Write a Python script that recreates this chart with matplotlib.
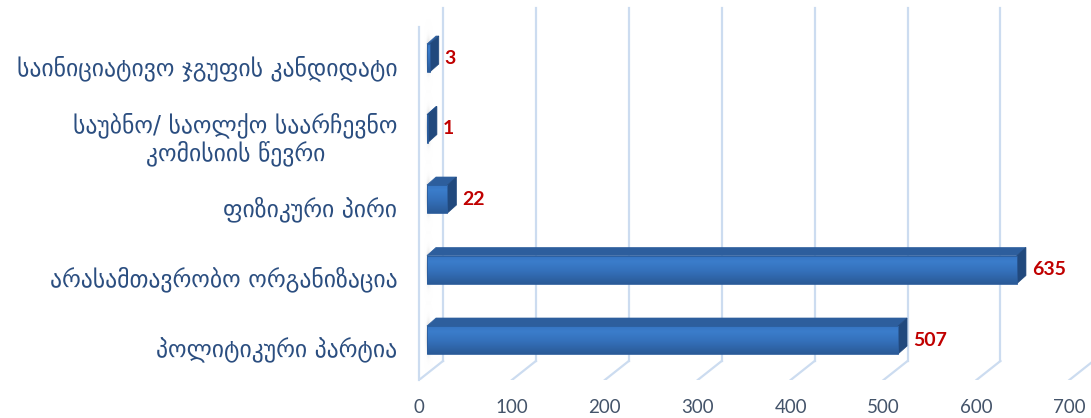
import numpy as np
import matplotlib
matplotlib.use("Agg")
import matplotlib.pyplot as plt
from matplotlib.patches import Rectangle, Polygon
from matplotlib.colors import LinearSegmentedColormap
from matplotlib.transforms import ScaledTranslation, blended_transform_factory

# data (bottom -> top)
categories = ["პოლიტიკური პარტია",
              "არასამთავრობო ორგანიზაცია",
              "ფიზიკური პირი",
              "საუბნო/ საოლქო საარჩევნო\nკომისიის წევრი",
              "საინიციატივო ჯგუფის კანდიდატი"]
values = [507, 635, 22, 1, 3]
xticks = [0, 100, 200, 300, 400, 500, 600, 700]

W, H, dpi = 1091, 418, 100
fig = plt.figure(figsize=(W / dpi, H / dpi), dpi=dpi)
# axes box in pixels (image coords): x 419..1091, y 8..380
ax = fig.add_axes([419 / W, (H - 380) / H, 672 / W, 372 / H])
xlim = (-8.6, 714.7)
ylim = (-0.468, 4.809)
ax.set_xlim(*xlim)
ax.set_ylim(*ylim)

px_x = 672 / (xlim[1] - xlim[0])      # pixels per value unit
px_y = 372 / (ylim[1] - ylim[0])      # pixels per category
dx, dy = 9 / px_x, 8 / px_y            # depth of the 3d bars
shift = 7 / px_y                       # front face sits a bit above category
bar_h = 28 / px_y

grid_c = "#CCDCF0"
tr = ax.get_xaxis_transform()
floor_y = (380 - 361) / 372
back = ax.transData + ScaledTranslation(16 / dpi, 0, fig.dpi_scale_trans)
bt = blended_transform_factory(back, ax.transAxes)
for t in xticks:
    # back wall gridline
    ax.plot([t, t], [floor_y, 1], color=grid_c, lw=1.6, transform=bt,
            clip_on=False, zorder=1)
    # slanted floor line from back to front
    x0 = t + 16 / px_x
    x1 = t - 8 / px_x
    ax.plot([x0, x1], [floor_y, 0], color=grid_c, lw=1.6,
            transform=tr, clip_on=True, zorder=1)
# left wall edge
ax.plot([xlim[0], xlim[0]], [0, (380 - 27) / 372], color=grid_c, lw=1.6,
        transform=tr, clip_on=False, zorder=1)

cmap = LinearSegmentedColormap.from_list(
    "barfront", [(0, "#2A5A97"), (0.45, "#3470BA"), (0.8, "#3B7DCB"), (1, "#3775C3")])
grad = np.linspace(0, 1, 64).reshape(-1, 1)
shade = LinearSegmentedColormap.from_list("shade", ["#FFFFFF00", "#6F6F6F"])
blob = np.exp(-np.linspace(-2.0, 2.0, 64) ** 2).reshape(-1, 1) * \
    np.exp(-np.linspace(-1.6, 1.6, 16) ** 2).reshape(1, -1)

for i, v in enumerate(values):
    y0 = i + shift - bar_h / 2
    y1 = y0 + bar_h
    # soft shadow on the wall, left of the bar
    ax.imshow(blob, extent=(xlim[0] + 5, xlim[0] + 14, y0 - 0.3, y1 + 0.35),
              origin="lower", aspect="auto", cmap=shade, alpha=0.6, zorder=1.5,
              interpolation="bicubic")
    front = Rectangle((0, y0), v, bar_h, fc="none", ec="#2B5C9B", lw=0.6, zorder=3)
    ax.add_patch(front)
    im = ax.imshow(grad, extent=(0, v, y0, y1), origin="lower", aspect="auto",
                   cmap=cmap, zorder=2.9, interpolation="bicubic")
    im.set_clip_path(front)
    top = Polygon([(0, y1), (v, y1), (v + dx, y1 + dy), (dx, y1 + dy)],
                  closed=True, fc="#2D5E9D", ec="#2D5E9D", lw=0.5, zorder=2.8)
    side = Polygon([(v, y0), (v + dx, y0 + dy), (v + dx, y1 + dy), (v, y1)],
                   closed=True, fc="#21497D", ec="#21497D", lw=0.5, zorder=2.8)
    ax.add_patch(top)
    ax.add_patch(side)
    ax.annotate(str(v), (v, i + shift), xytext=(15, 0), textcoords="offset pixels",
                va="center", ha="left", color="#C00000", fontsize=14,
                fontweight="bold", family=["Lato", "DejaVu Sans"], zorder=5)

ax.set_xlim(*xlim)
ax.set_ylim(*ylim)
ax.set_xticks(xticks)
ax.set_xticklabels([str(t) for t in xticks], family=["Lato", "DejaVu Sans"],
                   fontsize=13.5, color="#44546A")
ax.set_yticks(range(len(categories)))
ax.set_yticklabels(categories, fontsize=17, color="#2B4E80",
                   family=["DejaVu Sans"], multialignment="center",
                   linespacing=1.1)
ax.tick_params(axis="both", length=0)
ax.tick_params(axis="x", pad=13.5)
ax.tick_params(axis="y", pad=15.5)
off = ScaledTranslation(-8 / dpi, 0, fig.dpi_scale_trans)
for lab in ax.get_xticklabels():
    lab.set_transform(lab.get_transform() + off)
for s in ax.spines.values():
    s.set_visible(False)
ax.patch.set_alpha(0)

fig.savefig("out.png", dpi=dpi)
